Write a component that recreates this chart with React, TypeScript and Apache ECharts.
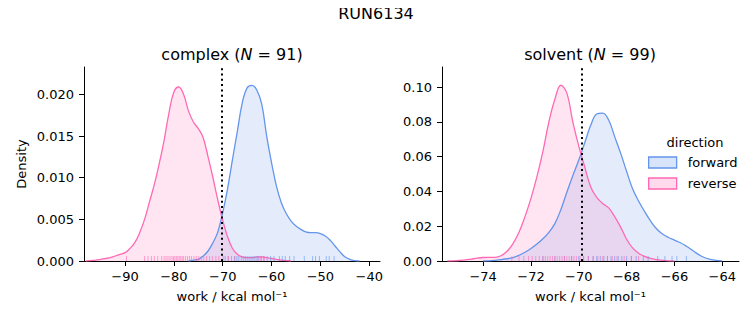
import React, { useEffect, useRef } from "react";
import * as echarts from "echarts";

const suptitle = "RUN6134";
const panelTitles = [
  { phase: "complex", n: 91 },
  { phase: "solvent", n: 99 },
];
const directions = ["forward", "reverse"];
const xLabel = "work / kcal mol\u207B\u00B9";
const yLabel = "Density";

const complexXTicks = [-90, -80, -70, -60, -50, -40];
const complexYTicks = [0, 0.005, 0.01, 0.015, 0.02];
const solventXTicks = [-74, -72, -70, -68, -66, -64];
const solventYTicks = [0, 0.02, 0.04, 0.06, 0.08, 0.1];

const complexMean = -70.15;
const solventMean = -69.88;

// KDE curves (work, density)
const complexForwardKde: number[][] = [
  [-77, 0], [-76, 0.0001], [-75, 0.0002], [-74, 0.0006], [-73, 0.0012],
  [-72, 0.0022], [-71, 0.0035], [-70, 0.0058], [-69, 0.0087], [-68, 0.0122],
  [-67, 0.0156], [-66, 0.019], [-65, 0.0208], [-64, 0.0211], [-63, 0.0205],
  [-62, 0.0188], [-61, 0.015], [-60, 0.0118], [-59, 0.009], [-58, 0.007],
  [-57, 0.0057], [-56, 0.0048], [-55, 0.0042], [-54, 0.0038], [-53, 0.0035],
  [-52, 0.0034], [-51, 0.0034], [-50, 0.0033], [-49, 0.003], [-48, 0.0025],
  [-47, 0.0018], [-46, 0.0011], [-45, 0.0005], [-44, 0.0002], [-43, 0.00005],
  [-42, 0],
];
const complexReverseKde: number[][] = [
  [-98, 0], [-97, 0.00005], [-96, 0.0001], [-95, 0.0002], [-94, 0.0003],
  [-93, 0.0004], [-92, 0.0006], [-91, 0.0008], [-90, 0.001], [-89, 0.0015],
  [-88, 0.0022], [-87, 0.0034], [-86, 0.005], [-85, 0.0071], [-84, 0.0092],
  [-83, 0.0117], [-82, 0.0145], [-81, 0.0178], [-80, 0.0203], [-79, 0.0209],
  [-78, 0.02], [-77, 0.018], [-76, 0.0167], [-75, 0.0159], [-74, 0.0148],
  [-73, 0.0125], [-72, 0.01], [-71, 0.0073], [-70, 0.0049], [-69, 0.0029],
  [-68, 0.0015], [-67, 0.0008], [-66, 0.0005], [-65, 0.0004], [-64, 0.0004],
  [-63, 0.0005], [-62, 0.0005], [-61, 0.0004], [-60, 0.0003], [-59, 0.0002],
  [-58, 0.0001], [-57, 0.00005], [-56, 0],
];
const solventForwardKde: number[][] = [
  [-74.0, 0], [-73.75, 0.0001], [-73.5, 0.0004], [-73.25, 0.0008], [-73.0, 0.0013],
  [-72.75, 0.002], [-72.5, 0.0033], [-72.25, 0.005], [-72.0, 0.0072], [-71.75, 0.0098],
  [-71.5, 0.0128], [-71.25, 0.0165], [-71.0, 0.0215], [-70.75, 0.0295], [-70.5, 0.0395],
  [-70.25, 0.049], [-70.0, 0.058], [-69.75, 0.068], [-69.5, 0.078], [-69.25, 0.0845],
  [-69.0, 0.085], [-68.75, 0.081], [-68.5, 0.0715], [-68.25, 0.062], [-68.0, 0.0515],
  [-67.75, 0.0415], [-67.5, 0.0345], [-67.25, 0.0285], [-67.0, 0.023], [-66.75, 0.0185],
  [-66.5, 0.0155], [-66.25, 0.0135], [-66.0, 0.012], [-65.75, 0.0105], [-65.5, 0.0085],
  [-65.25, 0.0062], [-65.0, 0.0038], [-64.75, 0.002], [-64.5, 0.0009], [-64.25, 0.0003],
  [-64.0, 0],
];
const solventReverseKde: number[][] = [
  [-75.5, 0], [-75.25, 0.0001], [-75.0, 0.0003], [-74.75, 0.0006], [-74.5, 0.0011],
  [-74.25, 0.0016], [-74.0, 0.002], [-73.75, 0.0021], [-73.5, 0.0021], [-73.25, 0.003],
  [-73.0, 0.0056], [-72.75, 0.01], [-72.5, 0.0165], [-72.25, 0.0255], [-72.0, 0.036],
  [-71.75, 0.0485], [-71.5, 0.063], [-71.25, 0.08], [-71.0, 0.093], [-70.75, 0.101],
  [-70.5, 0.0965], [-70.25, 0.08], [-70.0, 0.066], [-69.75, 0.054], [-69.5, 0.0425],
  [-69.25, 0.0365], [-69.0, 0.033], [-68.75, 0.0305], [-68.5, 0.0255], [-68.25, 0.0195],
  [-68.0, 0.0125], [-67.75, 0.0075], [-67.5, 0.0045], [-67.25, 0.0027], [-67.0, 0.0015],
  [-66.75, 0.0008], [-66.5, 0.0004], [-66.25, 0.0001], [-66.0, 0],
];

// individual work values (rug)
const complexForwardWork = [
  -69.5, -68.9, -68.2, -67.6, -67.1, -66.7, -66.2, -65.8, -65.4, -65.0, -64.6,
  -64.2, -63.8, -63.4, -63.0, -62.6, -62.1, -61.6, -60.9, -60.2, -59.5, -58.4,
  -57.8, -57.2, -56.3, -55.4, -53.3, -51.6, -51.0, -50.2, -48.8, -48.2, -47.2,
];
const complexReverseWork = [
  -89.7, -86.0, -85.3, -84.6, -84.0, -83.3, -82.5, -82.0, -81.6, -81.2, -80.8,
  -80.4, -80.1, -79.8, -79.5, -79.2, -78.9, -78.6, -78.3, -78.0, -77.6, -77.2,
  -76.8, -76.4, -75.9, -75.4, -74.9, -74.4, -73.9, -73.3, -72.7, -72.1, -71.4,
  -70.8, -69.9, -68.8, -67.5, -62.8, -62.2, -61.5,
];
const solventForwardWork = [
  -71.5, -71.0, -70.6, -70.3, -70.0, -69.8, -69.6, -69.4, -69.25, -69.1, -68.95,
  -68.8, -68.65, -68.5, -68.35, -68.2, -68.0, -67.8, -67.6, -67.3, -67.1, -66.7,
  -66.4, -66.1, -65.9, -65.5,
];
const solventReverseWork = [
  -72.8, -72.5, -72.3, -72.1, -71.95, -71.8, -71.65, -71.5, -71.4, -71.3, -71.2,
  -71.1, -71.0, -70.9, -70.8, -70.7, -70.6, -70.5, -70.4, -70.3, -70.2, -70.1,
  -69.95, -69.8, -69.6, -69.4, -69.2, -69.0, -68.8, -68.6, -68.4, -68.1, -67.8,
  -67.5,
];

const BLUE = "#6495ED";
const PINK = "#FF69B4";
const BLUE_FILL = "rgba(100,149,237,0.25)";
const PINK_FILL = "rgba(255,105,180,0.25)";
const FONT = "DejaVu Sans";

const minusFmt = (v: number) => String(v).replace("-", "\u2212");

function kdeSeries(name: string, data: number[][], idx: number, color: string, fill: string, mean?: number) {
  const s: any = {
    name,
    type: "line",
    xAxisIndex: idx,
    yAxisIndex: idx,
    data,
    smooth: 0.4,
    showSymbol: false,
    symbol: "none",
    lineStyle: { color, width: 1.3 },
    itemStyle: { color },
    areaStyle: { color: fill, origin: "start" },
    silent: true,
  };
  if (mean !== undefined) {
    s.markLine = {
      silent: true,
      symbol: ["none", "none"],
      label: { show: false },
      lineStyle: { color: "#000", width: 2, type: [2, 3.3], opacity: 1 },
      data: [{ xAxis: mean }],
    };
  }
  return s;
}

function rugSeries(name: string, values: number[], idx: number, color: string) {
  return {
    name,
    type: "scatter",
    xAxisIndex: idx,
    yAxisIndex: idx,
    data: values.map((v) => [v, 0]),
    symbol: "rect",
    symbolSize: [1, 5],
    symbolOffset: [0, -2.5],
    itemStyle: { color, opacity: 0.6 },
    silent: true,
    z: 3,
  };
}

function xAxisCfg(idx: number, min: number, max: number, ticks: number[]) {
  return {
    type: "value",
    gridIndex: idx,
    min,
    max,
    name: xLabel,
    nameLocation: "middle",
    nameGap: 29,
    nameTextStyle: { fontFamily: FONT, fontSize: 13, color: "#000" },
    axisLine: { show: true, onZero: false, lineStyle: { color: "#000", width: 1 } },
    axisTick: { show: true, length: 5, lineStyle: { color: "#000" }, customValues: ticks },
    axisLabel: {
      fontFamily: FONT, fontSize: 13, color: "#000", margin: 9,
      customValues: ticks, formatter: minusFmt,
    },
    splitLine: { show: false },
  };
}

function yAxisCfg(idx: number, max: number, ticks: number[], digits: number, withName: boolean) {
  return {
    type: "value",
    gridIndex: idx,
    min: 0,
    max,
    name: withName ? yLabel : "",
    nameLocation: "middle",
    nameGap: 56,
    nameTextStyle: { fontFamily: FONT, fontSize: 13, color: "#000" },
    axisLine: { show: true, lineStyle: { color: "#000", width: 1 } },
    axisTick: { show: true, length: 5, lineStyle: { color: "#000" }, customValues: ticks },
    axisLabel: {
      fontFamily: FONT, fontSize: 13, color: "#000", margin: 10,
      customValues: ticks, formatter: (v: number) => v.toFixed(digits),
    },
    splitLine: { show: false },
  };
}

export default function App() {
  const ref = useRef<HTMLDivElement>(null);
  useEffect(() => {
    if (!ref.current) return;
    const chart = echarts.init(ref.current, null, { renderer: "svg" });
    const titleText = (p: { phase: string; n: number }) =>
      `{n|${p.phase} (}{i|N}{n| = ${p.n})}`;
    const titleRich = {
      n: { fontFamily: FONT, fontSize: 16, color: "#000" },
      i: { fontFamily: FONT, fontSize: 16, fontStyle: "italic", color: "#000" },
    };
    const option: any = {
      animation: false,
      backgroundColor: "#fff",
      grid: [
        { left: 84, top: 67, width: 296, height: 194 },
        { left: 442, top: 67, width: 297, height: 194 },
      ],
      xAxis: [
        xAxisCfg(0, -98.4, -37.8, complexXTicks),
        xAxisCfg(1, -75.72, -63.3, solventXTicks),
      ],
      yAxis: [
        yAxisCfg(0, 0.0233, complexYTicks, 3, true),
        yAxisCfg(1, 0.1115, solventYTicks, 2, false),
      ],
      legend: {
        orient: "vertical",
        left: 648,
        top: 156,
        padding: 0,
        itemWidth: 28,
        itemHeight: 11,
        itemGap: 8,
        selectedMode: false,
        textStyle: { fontFamily: FONT, fontSize: 13, color: "#000", padding: [0, 0, 0, 6] },
        data: [
          { name: directions[0], icon: "rect", itemStyle: { color: BLUE_FILL, borderColor: BLUE, borderWidth: 1.3 } },
          { name: directions[1], icon: "rect", itemStyle: { color: PINK_FILL, borderColor: PINK, borderWidth: 1.3 } },
        ],
      },
      graphic: [
        {
          type: "text", x: 376, y: 13,
          style: { text: suptitle, fontFamily: FONT, fontSize: 16, fill: "#000", align: "center", verticalAlign: "middle" },
        },
        {
          type: "text", x: 232, y: 54,
          style: { text: titleText(panelTitles[0]), rich: titleRich, align: "center", verticalAlign: "middle" },
        },
        {
          type: "text", x: 590, y: 54,
          style: { text: titleText(panelTitles[1]), rich: titleRich, align: "center", verticalAlign: "middle" },
        },
        {
          type: "text", x: 695, y: 142,
          style: { text: "direction", fontFamily: FONT, fontSize: 13, fill: "#000", align: "center", verticalAlign: "middle" },
        },
      ],
      series: [
        kdeSeries(directions[0], complexForwardKde, 0, BLUE, BLUE_FILL, complexMean),
        kdeSeries(directions[1], complexReverseKde, 0, PINK, PINK_FILL),
        rugSeries(directions[0], complexForwardWork, 0, BLUE),
        rugSeries(directions[1], complexReverseWork, 0, PINK),
        kdeSeries(directions[0], solventForwardKde, 1, BLUE, BLUE_FILL, solventMean),
        kdeSeries(directions[1], solventReverseKde, 1, PINK, PINK_FILL),
        rugSeries(directions[0], solventForwardWork, 1, BLUE),
        rugSeries(directions[1], solventReverseWork, 1, PINK),
      ],
    };
    chart.setOption(option);
    return () => chart.dispose();
  }, []);
  return <div ref={ref} style={{ width: 753, height: 325, margin: -8 }} />;
}
